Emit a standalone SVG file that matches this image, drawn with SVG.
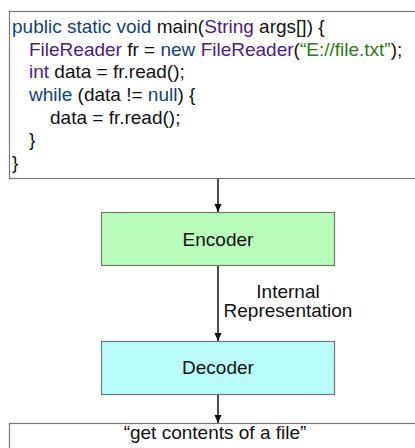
<svg xmlns="http://www.w3.org/2000/svg" width="415" height="448" viewBox="0 0 415 448">
<style>
text{font-family:"Liberation Sans",Arial,sans-serif;font-size:19px;fill:#111}
.box{stroke:#777;stroke-width:1.2}
.kw{fill:#143f7e}
.ty{fill:#4a1c86}
.st{fill:#2f7a18}
.conn{stroke:#111;stroke-width:1.5;fill:none}
</style>
<defs>
<marker id="a" markerWidth="8" markerHeight="9" refX="9" refY="4" orient="auto" markerUnits="userSpaceOnUse" viewBox="0 0 9 8">
<path d="M0,0 L9,4 L0,8 Z" fill="#111"/>
</marker>
</defs>
<g id="code">
<rect class="box" x="9.5" y="11.5" width="420" height="167" fill="#fff"/>
<text x="12" y="33"><tspan class="kw">public static void</tspan> main(<tspan class="ty">String</tspan> args[]) {</text>
<text x="29" y="55.5"><tspan class="ty">FileReader</tspan> fr = <tspan class="kw">new</tspan> <tspan class="ty">FileReader</tspan>(<tspan class="st">“E://file.txt”</tspan>);</text>
<text x="29" y="78"><tspan class="ty">int</tspan> data = fr.read();</text>
<text x="29" y="101"><tspan class="kw">while</tspan> (data != <tspan class="kw">null</tspan>) {</text>
<text x="50" y="123.5">data = fr.read();</text>
<text x="29" y="146">}</text>
<text x="12" y="169">}</text>
</g>
<g id="encoder">
<rect class="box" x="101.5" y="212.5" width="233" height="53" fill="#bafcba"/>
<text x="218" y="246" text-anchor="middle">Encoder</text>
</g>
<g id="decoder">
<rect class="box" x="101.5" y="341.5" width="233" height="53" fill="#bafcfc"/>
<text x="218" y="374" text-anchor="middle">Decoder</text>
</g>
<g id="output">
<rect class="box" x="9.5" y="423.5" width="420" height="40" fill="#fff"/>
<text x="215" y="439" text-anchor="middle">“get contents of a file”</text>
</g>
<g id="connectors">
<line class="conn" x1="218" y1="179" x2="218" y2="212" marker-end="url(#a)"/>
<line class="conn" x1="218" y1="266" x2="218" y2="341" marker-end="url(#a)"/>
<line class="conn" x1="218" y1="395" x2="218" y2="423" marker-end="url(#a)"/>
<text x="288" y="298" text-anchor="middle">Internal</text>
<text x="288" y="317" text-anchor="middle">Representation</text>
</g>
</svg>
